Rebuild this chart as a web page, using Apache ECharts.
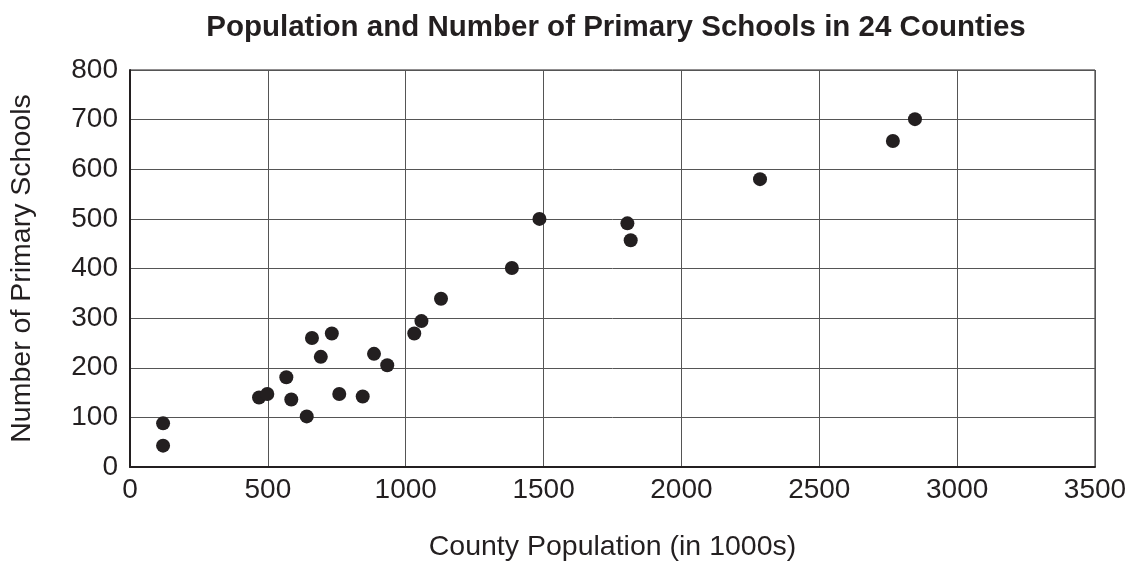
<!DOCTYPE html>
<html>
<head>
<meta charset="utf-8">
<script src="https://cdn.jsdelivr.net/npm/echarts@6/dist/echarts.min.js"></script>
<style>
html,body{margin:0;padding:0;background:#fff;}
#chart{width:1135px;height:565px;}
</style>
</head>
<body>
<div id="chart"></div>
<script>
// County population (in 1000s)
var population = [120, 120, 468, 498, 567, 585, 641, 660, 692, 732, 759, 844, 885, 933, 1031, 1057, 1128, 1385, 1485, 1804, 1816, 2285, 2767, 2847];
// Number of primary schools
var schools = [88, 43, 140, 147, 181, 136, 102, 260, 222, 269, 147, 142, 228, 205, 269, 294, 339, 401, 500, 491, 457, 580, 657, 701];
var xTicks = [0, 500, 1000, 1500, 2000, 2500, 3000, 3500];
var yTicks = [0, 100, 200, 300, 400, 500, 600, 700, 800];

var points = population.map(function (p, i) { return [p, schools[i]]; });
var font = 'Liberation Sans, Arial, sans-serif';
var ink = '#231f20';

var chart = echarts.init(document.getElementById('chart'), null, {renderer: 'canvas'});
chart.setOption({
  animation: false,
  backgroundColor: '#ffffff',
  title: {
    text: 'Population and Number of Primary Schools in 24 Counties',
    left: 611,
    textAlign: 'center',
    top: 8,
    textStyle: {fontFamily: font, fontWeight: 'bold', fontSize: 29.5, color: ink}
  },
  grid: {
    left: 130, right: 40, top: 70, bottom: 98,
    containLabel: false, outerBoundsMode: 'none',
    show: true, borderColor: ink, borderWidth: 1, backgroundColor: 'transparent'
  },
  xAxis: {
    type: 'value',
    min: xTicks[0], max: xTicks[xTicks.length - 1], interval: 500,
    name: 'County Population (in 1000s)',
    nameLocation: 'middle', nameGap: 66,
    nameTextStyle: {fontFamily: font, fontSize: 28.5, color: ink},
    axisLine: {show: true, onZero: false, lineStyle: {color: ink, width: 2}},
    axisTick: {show: false},
    axisLabel: {fontFamily: font, fontSize: 28, color: ink, margin: 9,
      formatter: function (v) { return String(v); }},
    splitLine: {show: true, lineStyle: {color: '#555555', width: 1}}
  },
  yAxis: {
    type: 'value',
    min: yTicks[0], max: yTicks[yTicks.length - 1], interval: 100,
    name: 'Number of Primary Schools',
    nameLocation: 'middle', nameGap: 93,
    nameTextStyle: {fontFamily: font, fontSize: 28.5, color: ink},
    axisLine: {show: true, onZero: false, lineStyle: {color: ink, width: 2}},
    axisTick: {show: false},
    axisLabel: {fontFamily: font, fontSize: 28, color: ink, margin: 12,
      formatter: function (v) { return String(v); }},
    splitLine: {show: true, lineStyle: {color: '#555555', width: 1}}
  },
  series: [{
    type: 'scatter',
    data: points,
    symbol: 'circle',
    symbolSize: 14,
    itemStyle: {color: ink, opacity: 1}
  }]
});
</script>
</body>
</html>
